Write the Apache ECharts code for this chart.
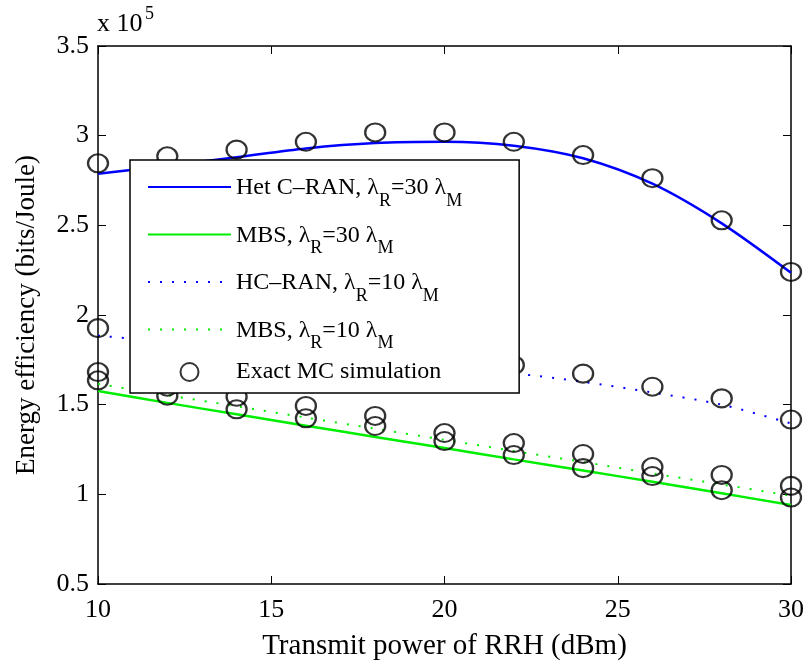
<!DOCTYPE html>
<html><head><meta charset="utf-8">
<script src="https://cdn.jsdelivr.net/npm/echarts@6/dist/echarts.min.js"></script>
<style>html,body{margin:0;padding:0;background:#fff}#c{width:808px;height:666px}</style>
</head><body><div id="c"></div>
<script>
// x values: transmit power of RRH (dBm)
const xValues = [10, 12, 14, 16, 18, 20, 22, 24, 26, 28, 30];
// analytical curves, energy efficiency in units of 1e5 bits/Joule
const hetCran30 = [2.787, 2.833, 2.880, 2.929, 2.959, 2.966, 2.944, 2.874, 2.732, 2.511, 2.235];
const mbs30     = [1.576, 1.510, 1.446, 1.383, 1.320, 1.258, 1.195, 1.133, 1.070, 1.006, 0.940];
const hcran10   = [1.885, 1.850, 1.810, 1.775, 1.740, 1.710, 1.675, 1.627, 1.568, 1.500, 1.395];
const mbs10     = [1.616, 1.553, 1.491, 1.428, 1.366, 1.304, 1.242, 1.180, 1.117, 1.055, 0.992];
// exact Monte Carlo simulation points
const simHetCran30 = [2.846, 2.885, 2.922, 2.966, 3.018, 3.018, 2.966, 2.892, 2.763, 2.528, 2.240];
const simHcran10   = [1.927, 1.890, 1.850, 1.810, 1.780, 1.750, 1.720, 1.673, 1.600, 1.535, 1.417];
const simMbs10     = [1.682, 1.600, 1.544, 1.493, 1.437, 1.342, 1.286, 1.225, 1.152, 1.108, 1.047];
const simMbs30     = [1.636, 1.550, 1.474, 1.424, 1.381, 1.297, 1.219, 1.146, 1.102, 1.023, 0.982];
// axis ticks
const xTicks = {min: 10, max: 30, step: 5};
const yTicks = {min: 0.5, max: 3.5, step: 0.5};
const xTitle = 'Transmit power of RRH (dBm)';
const yTitle = 'Energy efficiency (bits/Joule)';

const FF = '"Liberation Serif","Times New Roman",serif';
const pair = arr => xValues.map((x, i) => [x, arr[i]]);
const simData = [].concat(pair(simHetCran30), pair(simHcran10), pair(simMbs10), pair(simMbs30));

const legendText = {
  'het30': '{a|Het C–RAN, λ}{s|R}{a|=30 λ}{s|M}',
  'mbs30': '{a|MBS, λ}{s|R}{a|=30 λ}{s|M}',
  'hc10': '{a|HC–RAN, λ}{s|R}{a|=10 λ}{s|M}',
  'mbs10': '{a|MBS, λ}{s|R}{a|=10 λ}{s|M}',
  'sim': '{b|Exact MC simulation}'
};

const axisLine = {show: true, onZero: false, lineStyle: {color: '#000', width: 1.5}};
const tick = {show: true, inside: true, length: 8, lineStyle: {color: '#000', width: 1}};
const noDot = {color: 'rgba(0,0,0,0)', opacity: 0};

const chart = echarts.init(document.getElementById('c'), null, {renderer: 'canvas'});
chart.setOption({
  animation: false,
  backgroundColor: '#fff',
  grid: {left: 98, right: 17, top: 46, bottom: 77, containLabel: false},
  graphic: [
    {type: 'text', left: 97, top: 11, style: {text: 'x 10', font: '26px ' + FF, fill: '#000'}},
    {type: 'text', left: 145, top: 5, style: {text: '5', font: '18px ' + FF, fill: '#000'}}
  ],
  xAxis: [
    {type: 'value', position: 'bottom', min: xTicks.min, max: xTicks.max, interval: xTicks.step,
     axisLine: axisLine, axisTick: tick, splitLine: {show: false},
     axisLabel: {fontFamily: FF, fontSize: 26, color: '#000', margin: 13},
     name: xTitle, nameLocation: 'middle', nameGap: 48,
     nameTextStyle: {fontFamily: FF, fontSize: 29, color: '#000'}},
    {type: 'value', position: 'top', min: xTicks.min, max: xTicks.max, interval: xTicks.step,
     axisLine: axisLine, axisTick: tick, splitLine: {show: false}, axisLabel: {show: false}}
  ],
  yAxis: [
    {type: 'value', position: 'left', min: yTicks.min, max: yTicks.max, interval: yTicks.step,
     axisLine: axisLine, axisTick: tick, splitLine: {show: false},
     axisLabel: {fontFamily: FF, fontSize: 26, color: '#000', margin: 9},
     name: yTitle, nameLocation: 'middle', nameGap: 58,
     nameTextStyle: {fontFamily: FF, fontSize: 27, color: '#000'}},
    {type: 'value', position: 'right', min: yTicks.min, max: yTicks.max, interval: yTicks.step,
     axisLine: axisLine, axisTick: tick, splitLine: {show: false}, axisLabel: {show: false}}
  ],
  legend: {
    orient: 'vertical', left: 130, top: 160,
    backgroundColor: '#fff', borderColor: '#000', borderWidth: 1.5, borderRadius: 0,
    padding: [10, 57, 9, 17], itemGap: 7.5, itemWidth: 83, itemHeight: 18,
    data: [
      {name: 'het30', itemStyle: noDot},
      {name: 'mbs30', itemStyle: noDot},
      {name: 'hc10', itemStyle: noDot},
      {name: 'mbs10', itemStyle: noDot},
      {name: 'sim'}
    ],
    formatter: name => legendText[name],
    textStyle: {fontFamily: FF, fontSize: 24, color: '#000',
      rich: {
        a: {fontFamily: FF, fontSize: 24, color: '#000', lineHeight: 34, padding: [6, 0, 0, 0], verticalAlign: 'top'},
        s: {fontFamily: FF, fontSize: 18, color: '#000', lineHeight: 18, padding: [22, 0, 0, 0], verticalAlign: 'top'},
        b: {fontFamily: FF, fontSize: 24, color: '#000', lineHeight: 25}
      }}
  },
  series: [
    {name: 'het30', type: 'line', data: pair(hetCran30), symbol: 'none', smooth: 0.3,
     lineStyle: {color: '#0000ff', width: 2.5}, itemStyle: noDot},
    {name: 'mbs30', type: 'line', data: pair(mbs30), symbol: 'none', smooth: 0.3,
     lineStyle: {color: '#00ee00', width: 2.5}, itemStyle: noDot},
    {name: 'hc10', type: 'line', data: pair(hcran10), symbol: 'none', smooth: 0.3,
     lineStyle: {color: '#0000ff', width: 2, type: [2, 10]}, itemStyle: noDot},
    {name: 'mbs10', type: 'line', data: pair(mbs10), symbol: 'none', smooth: 0.3,
     lineStyle: {color: '#00ee00', width: 2, type: [2, 10]}, itemStyle: noDot},
    {name: 'sim', type: 'scatter', data: simData, symbol: 'circle', symbolSize: [20, 18], z: 3,
     itemStyle: {color: 'rgba(0,0,0,0)', borderColor: '#000', borderWidth: 2.2}}
  ]
});
</script></body></html>
